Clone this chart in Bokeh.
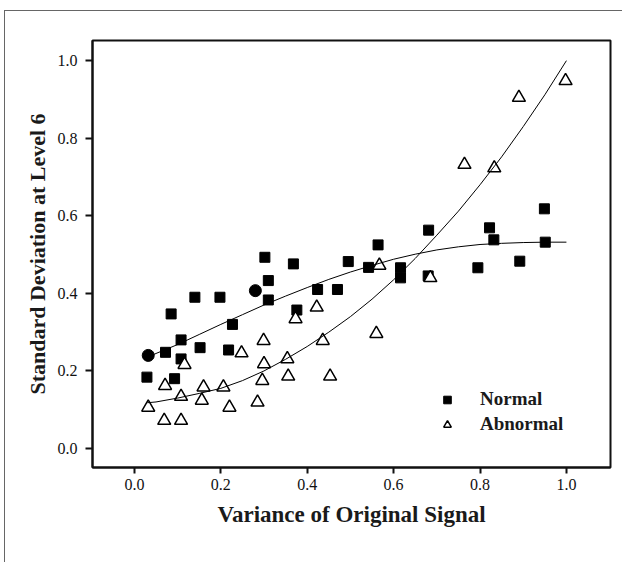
from bokeh.plotting import figure
from bokeh.models import Range1d, Legend, LegendItem
from bokeh.embed import file_html
from bokeh.resources import INLINE

# ---- data ----
normal_x = [0.029, 0.093, 0.072, 0.108, 0.108, 0.085, 0.140, 0.152, 0.198, 0.218,
            0.227, 0.302, 0.310, 0.310, 0.368, 0.376, 0.424, 0.470, 0.495, 0.542,
            0.564, 0.616, 0.616, 0.681, 0.680, 0.795, 0.822, 0.832, 0.892, 0.949, 0.951]
normal_y = [0.184, 0.180, 0.248, 0.231, 0.280, 0.347, 0.390, 0.260, 0.390, 0.254,
            0.320, 0.493, 0.433, 0.383, 0.476, 0.357, 0.410, 0.410, 0.482, 0.467,
            0.525, 0.466, 0.440, 0.563, 0.445, 0.466, 0.569, 0.538, 0.483, 0.618, 0.532]

normal_circle_x = [0.032, 0.280]
normal_circle_y = [0.240, 0.407]

abnormal_x = [0.032, 0.069, 0.108, 0.071, 0.108, 0.116, 0.156, 0.160, 0.206, 0.220,
              0.248, 0.285, 0.296, 0.300, 0.299, 0.354, 0.356, 0.373, 0.422, 0.436,
              0.453, 0.560, 0.567, 0.685, 0.764, 0.833, 0.890, 0.998]
abnormal_y = [0.106, 0.072, 0.072, 0.162, 0.134, 0.216, 0.124, 0.158, 0.158, 0.106,
              0.246, 0.119, 0.175, 0.218, 0.278, 0.231, 0.186, 0.334, 0.364, 0.278,
              0.186, 0.296, 0.472, 0.440, 0.732, 0.723, 0.905, 0.948]

fit_x = [0.03, 0.05, 0.10, 0.15, 0.20, 0.25, 0.30, 0.35, 0.40, 0.45, 0.50,
         0.55, 0.60, 0.65, 0.70, 0.75, 0.80, 0.85, 0.90, 0.95, 1.00]
normal_fit_y = [0.235, 0.245, 0.268, 0.294, 0.320, 0.345, 0.370, 0.393, 0.415, 0.436, 0.455,
                0.472, 0.488, 0.501, 0.512, 0.520, 0.526, 0.529, 0.531, 0.532, 0.532]
abnormal_fit_y = [0.118, 0.120, 0.130, 0.142, 0.155, 0.175, 0.200, 0.230, 0.263, 0.300, 0.340,
                  0.385, 0.435, 0.490, 0.550, 0.612, 0.680, 0.752, 0.830, 0.912, 1.000]

x_ticks = [0.0, 0.2, 0.4, 0.6, 0.8, 1.0]
y_ticks = [0.0, 0.2, 0.4, 0.6, 0.8, 1.0]
tick_labels = ["0.0", "0.2", "0.4", "0.6", "0.8", "1.0"]

x_title = "Variance of Original Signal"
y_title = "Standard Deviation at Level 6"
series_names = ["Normal", "Abnormal"]

SERIF = "Liberation Serif"

p = figure(width=618, height=552, output_backend="svg", toolbar_location=None,
           x_range=Range1d(-0.097, 1.102), y_range=Range1d(-0.049, 1.052),
           min_border_left=87, min_border_top=29, min_border_right=13, min_border_bottom=96)
p.styles = {"border-left": "1px solid #666666", "border-top": "1px solid #666666",
            "margin-left": "4px", "margin-top": "10px"}

p.grid.visible = False
p.outline_line_color = "#111111"
p.outline_line_width = 2
p.background_fill_color = "white"
p.border_fill_color = "white"

for ax, ticks in ((p.xaxis, x_ticks), (p.yaxis, y_ticks)):
    ax.ticker = ticks
    ax.major_label_overrides = {t: l for t, l in zip(ticks, tick_labels)}
    ax.axis_line_width = 2
    ax.axis_line_color = "#111111"
    ax.major_tick_line_width = 2
    ax.major_tick_line_color = "#111111"
    ax.major_tick_out = 6
    ax.major_tick_in = 0
    ax.minor_tick_out = 0
    ax.minor_tick_in = 0
    ax.major_label_text_font = SERIF
    ax.major_label_text_font_size = "16px"
    ax.major_label_text_color = "#111111"
    ax.axis_label_text_font = SERIF
    ax.axis_label_text_font_style = "bold"
    ax.axis_label_text_color = "#1a1a1a"

p.xaxis.axis_label = x_title
p.xaxis.axis_label_text_font_size = "23px"
p.xaxis.major_label_standoff = 5
p.xaxis.axis_label_standoff = 9
p.yaxis.axis_label = y_title
p.yaxis.axis_label_text_font_size = "22px"
p.yaxis.major_tick_out = 7
p.yaxis.major_label_standoff = 8
p.yaxis.axis_label_standoff = 5

sq = p.scatter(normal_x, normal_y, marker="square", size=10,
               fill_color="black", line_color="black")
p.scatter(normal_circle_x, normal_circle_y, marker="circle", size=12,
          fill_color="black", line_color="black")
tri = p.scatter(abnormal_x, abnormal_y, marker="triangle", size=13,
                fill_color="white", line_color="black", line_width=1.5)

p.line(fit_x, normal_fit_y, line_color="black", line_width=1)
p.line(fit_x, abnormal_fit_y, line_color="black", line_width=1)

legend = Legend(items=[LegendItem(label=series_names[0], renderers=[sq]),
                       LegendItem(label=series_names[1], renderers=[tri])],
                location=(345, 32), padding=0, margin=0, spacing=3,
                glyph_width=20, glyph_height=19, label_height=19, label_standoff=23,
                border_line_color=None, background_fill_alpha=0,
                label_text_font=SERIF, label_text_font_style="bold",
                label_text_font_size="19px", label_text_color="#1a1a1a")
p.add_layout(legend)

open("out.html", "w").write(file_html(p, INLINE))
